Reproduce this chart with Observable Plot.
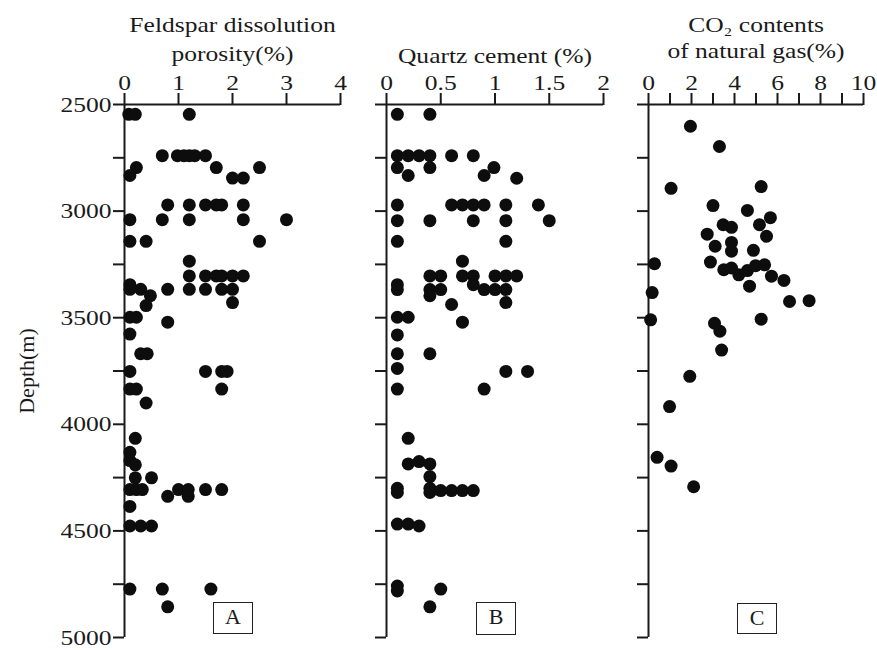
<!DOCTYPE html>
<html>
<head>
<meta charset="utf-8">
<script src="https://cdn.jsdelivr.net/npm/d3@7"></script>
<script src="https://cdn.jsdelivr.net/npm/@observablehq/plot@0.6"></script>
<style>
  body { margin: 0; background: #fff; }
  #chart { position: relative; width: 877px; height: 650px; font-family: "Liberation Serif", "Times New Roman", serif; color: #1a1a1a; }
  #chart svg { position: absolute; left: 0; top: 0; overflow: visible; }
  .tag { position: absolute; box-sizing: border-box; border: 1.5px solid #222; font-size: 22px; line-height: 28px; text-align: center; background: #fff; }
</style>
</head>
<body>
<div id="chart"></div>
<script>
// ---------- axes ----------
const depthDomain = [2500, 5000];
const depthTicks = [2500, 2750, 3000, 3250, 3500, 3750, 4000, 4250, 4500, 4750, 5000];
const depthLabels = [2500, 3000, 3500, 4000, 4500, 5000];

const feldsparDomain = [0, 4];
const feldsparTicks = [0, 1, 2, 3, 4];
const feldsparLabels = [0, 1, 2, 3, 4];

const quartzDomain = [0, 2];
const quartzTicks = [0, 0.5, 1, 1.5, 2];
const quartzLabels = [0, 0.5, 1, 1.5, 2];

const co2Domain = [0, 10];
const co2Ticks = [0, 1, 2, 3, 4, 5, 6, 7, 8, 9, 10];
const co2Labels = [0, 2, 4, 6, 8, 10];

// ---------- A: feldspar dissolution porosity (%) ----------
const feldsparDepth = [
  2546, 2546, 2546,
  2740, 2740, 2740, 2740, 2740, 2740,
  2796, 2796, 2796,
  2833,
  2845, 2845,
  2971, 2971, 2971, 2971, 2971, 2971,
  3040, 3040, 3040, 3040, 3040,
  3142, 3142, 3142,
  3235,
  3304, 3304, 3304, 3304, 3304, 3304,
  3345,
  3367, 3367, 3367, 3367, 3367, 3367, 3367,
  3397, 3429, 3443,
  3498, 3498, 3521,
  3577,
  3669, 3669,
  3752, 3752, 3752, 3752,
  3835, 3835, 3835,
  3900,
  4066, 4131, 4170, 4190,
  4251, 4251,
  4306, 4306, 4306, 4306, 4306, 4306, 4306,
  4338, 4338,
  4385,
  4477, 4477, 4477,
  4773, 4773, 4773,
  4856
];
const feldsparPct = [
  0.08, 0.2, 1.2,
  0.7, 0.98, 1.1, 1.2, 1.3, 1.5,
  0.22, 1.7, 2.5,
  0.1,
  2.0, 2.2,
  0.8, 1.2, 1.5, 1.7, 1.8, 2.2,
  0.1, 0.7, 1.2, 2.2, 3.0,
  0.1, 0.4, 2.5,
  1.2,
  1.2, 1.5, 1.7, 1.8, 2.0, 2.2,
  0.1,
  0.1, 0.3, 0.8, 1.2, 1.5, 1.8, 2.0,
  0.48, 2.0, 0.4,
  0.1, 0.22, 0.8,
  0.1,
  0.3, 0.42,
  0.1, 1.5, 1.8, 1.9,
  0.1, 0.22, 1.8,
  0.4,
  0.2, 0.1, 0.1, 0.2,
  0.2, 0.5,
  0.1, 0.22, 0.33, 1.0, 1.18, 1.5, 1.8,
  0.8, 1.18,
  0.1,
  0.1, 0.3, 0.5,
  0.1, 0.7, 1.6,
  0.8
];

// ---------- B: quartz cement (%) ----------
const quartzDepth = [
  2546, 2546,
  2740, 2740, 2740, 2740, 2740, 2740,
  2796, 2796, 2796,
  2833, 2833,
  2846,
  2971, 2971, 2971, 2971, 2971, 2971, 2971,
  3045, 3045, 3045, 3045, 3045,
  3142, 3142,
  3235,
  3304, 3304, 3304, 3304, 3304, 3304, 3304,
  3345, 3345,
  3368, 3368, 3368, 3368, 3368, 3368,
  3397, 3429, 3438,
  3498, 3498, 3521,
  3581,
  3669, 3669,
  3738,
  3752, 3752,
  3835, 3835,
  4066,
  4175, 4186, 4186,
  4245,
  4300, 4300, 4320, 4320,
  4311, 4311, 4311, 4311,
  4468, 4468, 4477,
  4759, 4782, 4773,
  4856
];
const quartzPct = [
  0.1, 0.4,
  0.1, 0.2, 0.3, 0.4, 0.6, 0.8,
  0.1, 0.4, 0.99,
  0.2, 0.9,
  1.2,
  0.1, 0.6, 0.7, 0.8, 0.9, 1.1, 1.4,
  0.1, 0.4, 0.8, 1.1, 1.5,
  0.1, 1.1,
  0.7,
  0.4, 0.5, 0.7, 0.8, 1.0, 1.1, 1.2,
  0.1, 0.8,
  0.1, 0.4, 0.5, 0.9, 1.0, 1.1,
  0.4, 1.1, 0.6,
  0.1, 0.2, 0.7,
  0.1,
  0.1, 0.4,
  0.1,
  1.1, 1.3,
  0.1, 0.9,
  0.2,
  0.3, 0.2, 0.4,
  0.4,
  0.1, 0.4, 0.1, 0.4,
  0.5, 0.6, 0.7, 0.8,
  0.1, 0.2, 0.3,
  0.1, 0.1, 0.5,
  0.4
];

// ---------- C: CO2 contents of natural gas (%) ----------
const co2Depth = [
  2602, 2697, 2893, 2885, 2974, 2997, 3031, 3064, 3076, 3064,
  3108, 3118, 3147, 3165, 3188, 3184, 3247, 3239, 3275, 3267,
  3299, 3279, 3256, 3252, 3305, 3325, 3352, 3382, 3424, 3420,
  3510, 3507, 3526, 3563, 3652, 3775, 3917, 4155, 4196, 4293
];
const co2Pct = [
  1.95, 3.3, 1.05, 5.24, 3.0, 4.6, 5.67, 3.47, 3.86, 5.16,
  2.73, 5.49, 3.86, 3.1, 3.86, 4.88, 0.28, 2.88, 3.5, 3.86,
  4.2, 4.6, 4.98, 5.4, 5.72, 6.3, 4.7, 0.17, 6.56, 7.47,
  0.1, 5.24, 3.07, 3.32, 3.4, 1.92, 0.98, 0.4, 1.05, 2.1
];

const INK = "#1a1a1a";
const FONT = '"Liberation Serif", "Times New Roman", serif';

function panel({depth, values, xDomain, xTicks, xLabels, marginLeft, marginRight, title, titleDy, titleLH, showDepth}) {
  const data = depth.map((d, i) => ({depth: d, v: values[i]}));
  const marks = [
    Plot.ruleY([depthDomain[0]], {x1: xDomain[0], x2: xDomain[1], stroke: INK, strokeWidth: 2}),
    Plot.ruleX([xDomain[0]], {y1: depthDomain[0], y2: depthDomain[1], stroke: INK, strokeWidth: 2}),
    Plot.axisX({anchor: "top", ticks: xTicks, tickSize: 12, tickPadding: 3, stroke: INK, strokeWidth: 2,
      tickFormat: d => xLabels.includes(d) ? String(d) : "", label: null}),
    Plot.axisY({anchor: "left", ticks: depthTicks, tickSize: 11, tickPadding: 2, stroke: INK, strokeWidth: 2,
      tickFormat: d => showDepth && depthLabels.includes(d) ? String(d) : "", label: null}),
    Plot.dot(data, {x: "v", y: "depth", r: 6.5, fill: "#0d0d0d", stroke: null}),
    Plot.text([title], {frameAnchor: "top", dy: titleDy, lineAnchor: "middle", lineHeight: titleLH, fill: INK})
  ];
  if (showDepth) {
    marks.push(Plot.text(["Depth(m)"], {frameAnchor: "left", textAnchor: "middle", dx: -98, rotate: -90, fill: INK}));
  }
  return Plot.plot({
    width: 877, height: 650,
    marginTop: 104, marginBottom: 13, marginLeft, marginRight,
    style: {fontFamily: FONT, fontSize: "22px", color: INK, background: "transparent", overflow: "visible"},
    x: {domain: xDomain, label: null},
    y: {domain: depthDomain, reverse: true, label: null},
    marks
  });
}

const chart = document.getElementById("chart");
const plots = [
  panel({depth: feldsparDepth, values: feldsparPct, xDomain: feldsparDomain, xTicks: feldsparTicks, xLabels: feldsparLabels,
         marginLeft: 124, marginRight: 537, title: "Feldspar dissolution\nporosity(%)", titleDy: -67, titleLH: 1.32, showDepth: true}),
  panel({depth: quartzDepth, values: quartzPct, xDomain: quartzDomain, xTicks: quartzTicks, xLabels: quartzLabels,
         marginLeft: 386, marginRight: 274, title: "Quartz cement (%)", titleDy: -49, titleLH: 1, showDepth: false}),
  panel({depth: co2Depth, values: co2Pct, xDomain: co2Domain, xTicks: co2Ticks, xLabels: co2Labels,
         marginLeft: 648, marginRight: 14, title: "CO\u2082 contents\nof natural gas(%)", titleDy: -68, titleLH: 1.2, showDepth: false})
];
plots.forEach(p => chart.appendChild(p));

// widen glyphs horizontally to match the reference's stretched serif type
function stretch(svg, k) {
  svg.querySelectorAll("text").forEach(t => {
    const tr = (t.getAttribute("transform") || "") + (t.parentNode.getAttribute && (t.parentNode.getAttribute("transform") || ""));
    if (tr.includes("rotate")) return;
    const spans = t.querySelectorAll("tspan");
    const targets = spans.length ? Array.from(spans) : [t];
    targets.forEach(el => {
      const len = el.getComputedTextLength();
      if (len > 0) {
        el.setAttribute("textLength", (len * k).toFixed(2));
        el.setAttribute("lengthAdjust", "spacingAndGlyphs");
      }
    });
  });
}
plots.forEach(p => stretch(p, 1.16));

// panel tags
[["A", 213, 602, 40, 32], ["B", 476, 602, 40, 33], ["C", 737, 603, 40, 31]].forEach(([s, l, t, w, h]) => {
  const d = document.createElement("div");
  d.className = "tag";
  d.textContent = s;
  Object.assign(d.style, {left: l + "px", top: t + "px", width: w + "px", height: h + "px"});
  chart.appendChild(d);
});
</script>
</body>
</html>
